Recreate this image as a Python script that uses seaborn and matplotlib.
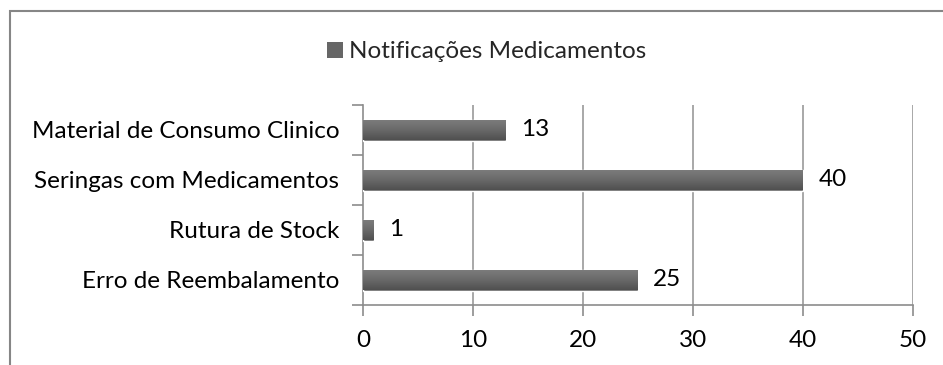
import numpy as np
import pandas as pd
import matplotlib
matplotlib.use("Agg")
import matplotlib.pyplot as plt
from matplotlib.patches import Patch, Rectangle
import seaborn as sns

categories = ["Material de Consumo Clinico", "Seringas com Medicamentos",
              "Rutura de Stock", "Erro de Reembalamento"]
values = [13, 40, 1, 25]
series_name = "Notificações Medicamentos"
x_ticks = [0, 10, 20, 30, 40, 50]

sns.set_theme(style="white")
plt.rcParams["font.family"] = ["Lato", "DejaVu Sans"]

FS = 17.5
GRID = "#9a9a9a"
AXIS = "#8c8c8c"

fig = plt.figure(figsize=(9.43, 3.65), dpi=100)
ax = fig.add_axes([363 / 943, 60 / 365, 550 / 943, 200 / 365])

df = pd.DataFrame({"categoria": categories, "valor": values})
sns.barplot(data=df, x="valor", y="categoria", orient="h", width=0.42,
            color="#666666", saturation=1, ax=ax, zorder=3)

# vertical gradient on each bar (lighter top, darker bottom)
grad = np.linspace(0, 1, 64).reshape(-1, 1)
cmap = matplotlib.colors.LinearSegmentedColormap.from_list(
    "bar", ["#7d7d7d", "#6a6a6a", "#505050"])
for p in ax.patches:
    x0, y0 = p.get_x(), p.get_y()
    w, h = p.get_width(), p.get_height()
    im = ax.imshow(grad, cmap=cmap, aspect="auto",
                   extent=[x0, x0 + w, y0 + h, y0], zorder=4,
                   interpolation="bilinear")
    im.set_clip_path(p)

ax.set_xlim(0, 50)
ax.set_ylim(3.5, -0.5)
ax.set_xticks(x_ticks)
ax.set_xticklabels([str(t) for t in x_ticks], fontsize=FS, color="black")
ax.set_yticks(range(len(categories)))
ax.set_yticklabels(categories, fontsize=FS, color="black")
ax.set_yticks([-0.5, 0.5, 1.5, 2.5, 3.5], minor=True)
ax.tick_params(axis="y", which="major", length=0, pad=17)
ax.tick_params(axis="y", which="minor", length=8, width=1.2, color=AXIS,
               direction="out", left=True)
ax.tick_params(axis="x", which="major", length=8, width=1.2, color=AXIS,
               direction="out", bottom=True, pad=10)
ax.set_xlabel("")
ax.set_ylabel("")

for t in x_ticks[1:]:
    ax.axvline(t, color=GRID, lw=1.2, zorder=1)

for side in ["top", "right"]:
    ax.spines[side].set_visible(False)
for side in ["left", "bottom"]:
    ax.spines[side].set_color(AXIS)
    ax.spines[side].set_linewidth(1.2)

ax.bar_label(ax.containers[0], labels=[str(v) for v in values],
             padding=11, fontsize=FS, color="black")

fig.legend(handles=[Patch(facecolor="#666666", edgecolor="none",
                          label=series_name)],
           loc="center", bbox_to_anchor=(487 / 943, 1 - 52 / 365),
           frameon=False, fontsize=FS, handlelength=0.65, handleheight=0.65,
           handletextpad=0.25)

# outer chart frame
fig.patches.append(Rectangle((9.5 / 943, -0.1), 1.2, (365 - 11) / 365 + 0.1,
                             transform=fig.transFigure, fill=False,
                             edgecolor="#868686", lw=1.5))

fig.savefig("out.png", dpi=100, facecolor="white")
